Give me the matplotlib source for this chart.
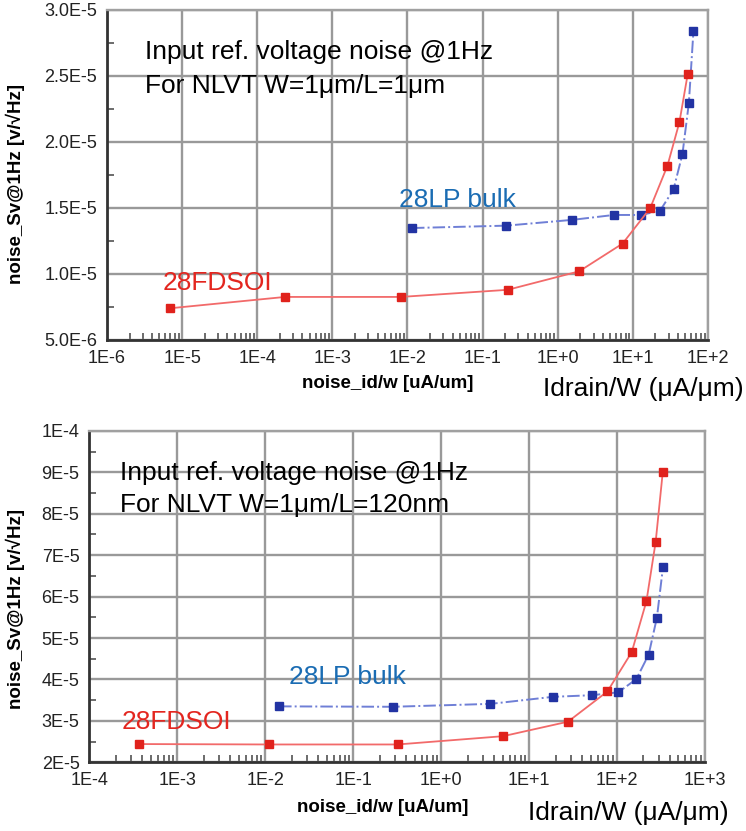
import matplotlib
matplotlib.use('Agg')
import matplotlib.pyplot as plt
from matplotlib.ticker import FixedLocator, FixedFormatter, LogLocator, NullFormatter
import numpy as np

plt.rcParams['font.family'] = ['Liberation Sans', 'DejaVu Sans']

# ---- data: top panel (W=1um / L=1um) ----
fd_top_x = [6.9e-6, 2.35e-4, 8.2e-3, 0.216, 1.93, 7.3, 17.0, 28.9, 41.7, 53.8]
fd_top_y = [7.4e-6, 8.26e-6, 8.26e-6, 8.8e-6, 10.2e-6, 12.3e-6, 14.98e-6, 18.2e-6, 21.5e-6, 25.15e-6]
lp_top_x = [0.0115, 0.206, 1.57, 5.58, 13.0, 23.1, 34.8, 45.8, 55.7, 64.1]
lp_top_y = [13.48e-6, 13.66e-6, 14.1e-6, 14.47e-6, 14.47e-6, 14.8e-6, 16.4e-6, 19.1e-6, 22.95e-6, 28.4e-6]

# ---- data: bottom panel (W=1um / L=120nm) ----
fd_bot_x = [3.7e-4, 0.011, 0.32, 5.07, 27.7, 77.8, 147, 216, 275, 331]
fd_bot_y = [2.44e-5, 2.43e-5, 2.43e-5, 2.63e-5, 2.98e-5, 3.71e-5, 4.66e-5, 5.89e-5, 7.32e-5, 9.0e-5]
lp_bot_x = [0.0144, 0.283, 3.64, 18.6, 52.5, 103.5, 166, 229, 284, 333]
lp_bot_y = [3.35e-5, 3.34e-5, 3.41e-5, 3.58e-5, 3.62e-5, 3.69e-5, 4.01e-5, 4.6e-5, 5.49e-5, 6.71e-5]

# ---- ticks ----
top_xticks = [1e-6, 1e-5, 1e-4, 1e-3, 1e-2, 1e-1, 1e0, 1e1, 1e2]
top_xlabels = ['1E-6', '1E-5', '1E-4', '1E-3', '1E-2', '1E-1', '1E+0', '1E+1', '1E+2']
top_yticks = [5e-6, 1e-5, 1.5e-5, 2e-5, 2.5e-5, 3e-5]
top_ylabels = ['5.0E-6', '1.0E-5', '1.5E-5', '2.0E-5', '2.5E-5', '3.0E-5']
bot_xticks = [1e-4, 1e-3, 1e-2, 1e-1, 1e0, 1e1, 1e2, 1e3]
bot_xlabels = ['1E-4', '1E-3', '1E-2', '1E-1', '1E+0', '1E+1', '1E+2', '1E+3']
bot_yticks = [2e-5, 3e-5, 4e-5, 5e-5, 6e-5, 7e-5, 8e-5, 9e-5, 1e-4]
bot_ylabels = ['2E-5', '3E-5', '4E-5', '5E-5', '6E-5', '7E-5', '8E-5', '9E-5', '1E-4']

RED_M = '#e0221c'
RED_L = '#f26a6a'
BLUE_M = '#2233a3'
BLUE_L = '#6f7fd6'
LBL_RED = '#e3261f'
LBL_BLUE = '#1a6cb3'

fig = plt.figure(figsize=(7.46, 8.31), dpi=100)
ax1 = fig.add_axes([0.1434, 0.5909, 0.8056, 0.3971])
ax2 = fig.add_axes([0.1197, 0.0827, 0.8253, 0.3987])


def style_axes(ax, xticks, xlabels, yticks, ylabels):
    ax.set_xscale('log')
    ax.set_xlim(xticks[0], xticks[-1])
    ax.set_ylim(yticks[0], yticks[-1])
    ax.xaxis.set_major_locator(FixedLocator(xticks))
    ax.xaxis.set_major_formatter(FixedFormatter(xlabels))
    ax.xaxis.set_minor_locator(LogLocator(base=10, subs=np.arange(2, 10)))
    ax.xaxis.set_minor_formatter(NullFormatter())
    ax.yaxis.set_major_locator(FixedLocator(yticks))
    ax.yaxis.set_major_formatter(FixedFormatter(ylabels))
    step = yticks[1] - yticks[0]
    ax.yaxis.set_minor_locator(FixedLocator([y + step / 2 for y in yticks[:-1]]))
    ax.grid(True, which='major', color='#999999', linewidth=1.7)
    ax.tick_params(which='major', direction='in', length=0, labelsize=13, pad=7, colors='#222222')
    ax.tick_params(which='minor', direction='in', length=5, width=1.1, color='#444444')
    for s in ['top', 'right']:
        ax.spines[s].set_color('#a0a0a0')
        ax.spines[s].set_linewidth(1.7)
    for s in ['left', 'bottom']:
        ax.spines[s].set_color('#333333')
        ax.spines[s].set_linewidth(2.0)
    ax.set_axisbelow(True)


for ax, fx, fy, lx, ly in [(ax1, fd_top_x, fd_top_y, lp_top_x, lp_top_y),
                           (ax2, fd_bot_x, fd_bot_y, lp_bot_x, lp_bot_y)]:
    ax.plot(lx, ly, linestyle='-.', color=BLUE_L, linewidth=1.4, marker='s',
            markersize=6, markerfacecolor=BLUE_M, markeredgecolor=BLUE_M, clip_on=False)
    ax.plot(fx, fy, linestyle='-', color=RED_L, linewidth=1.3, marker='s',
            markersize=5.5, markerfacecolor=RED_M, markeredgecolor=RED_M, clip_on=False)

style_axes(ax1, top_xticks, top_xlabels, top_yticks, top_ylabels)
style_axes(ax2, bot_xticks, bot_xlabels, bot_yticks, bot_ylabels)

ylab = 'noise_Sv@1Hz [v/\u221aHz]'
xlab = 'noise_id/w [uA/um]'
fig.text(15 / 746, 1 - 184 / 831, ylab, rotation=90, fontsize=13.5, fontweight='bold',
         ha='center', va='center')
fig.text(15 / 746, 1 - 609 / 831, ylab, rotation=90, fontsize=13.5, fontweight='bold',
         ha='center', va='center')
fig.text(388 / 746, 1 - 383 / 831, xlab, fontsize=13.5, fontweight='bold', ha='center', va='center')
fig.text(383 / 746, 1 - 808 / 831, xlab, fontsize=13.5, fontweight='bold', ha='center', va='center')
fig.text(543 / 746, 1 - 389 / 831, 'Idrain/W (\u03bcA/\u03bcm)', fontsize=19, ha='left', va='center')
fig.text(528 / 746, 1 - 813 / 831, 'Idrain/W (\u03bcA/\u03bcm)', fontsize=19, ha='left', va='center')

# annotations
fig.text(145 / 746, 1 - 52 / 831, 'Input ref. voltage noise @1Hz', fontsize=19, va='center')
fig.text(145 / 746, 1 - 86 / 831, 'For NLVT W=1\u03bcm/L=1\u03bcm', fontsize=19, va='center')
fig.text(120 / 746, 1 - 473 / 831, 'Input ref. voltage noise @1Hz', fontsize=19, va='center')
fig.text(120 / 746, 1 - 505 / 831, 'For NLVT W=1\u03bcm/L=120nm', fontsize=19, va='center')

fig.text(399 / 746, 1 - 200 / 831, '28LP bulk', fontsize=19, color=LBL_BLUE, va='center')
fig.text(163 / 746, 1 - 283 / 831, '28FDSOI', fontsize=19, color=LBL_RED, va='center')
fig.text(289 / 746, 1 - 677 / 831, '28LP bulk', fontsize=19, color=LBL_BLUE, va='center')
fig.text(122 / 746, 1 - 722 / 831, '28FDSOI', fontsize=19, color=LBL_RED, va='center')

fig.savefig('out.png', dpi=100)
